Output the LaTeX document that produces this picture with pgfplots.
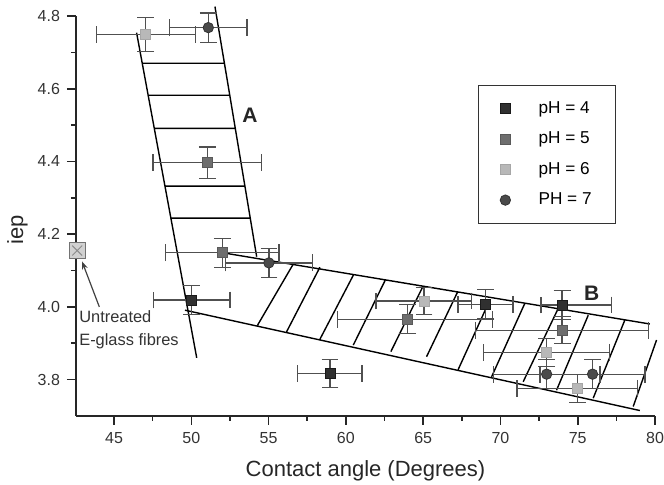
\documentclass[border=0pt]{standalone}
\usepackage{fontspec}
\setmainfont{Liberation Sans}
\usepackage{pgfplots}
\pgfplotsset{compat=1.18}
\usetikzlibrary{arrows.meta}
\definecolor{cfour}{HTML}{303030}
\definecolor{cfive}{HTML}{6E6E6E}
\definecolor{csix}{HTML}{B8B8B8}
\definecolor{cseven}{HTML}{4A4A4A}
\definecolor{ebar}{HTML}{505050}
\begin{document}
\begin{tikzpicture}
\begin{axis}[
  at={(38pt,34.5pt)}, anchor=south west,
  width=289.5pt, height=200pt, scale only axis,
  xmin=42.54, xmax=80, ymin=3.7, ymax=4.8,
  axis x line*=bottom, axis y line*=left,
  axis line style={-, line width=0.9pt, black!85},
  xtick={45,50,55,60,65,70,75,80},
  ytick={3.8,4.0,4.2,4.4,4.6,4.8},
  minor x tick num=1, minor y tick num=1,
  tick align=outside, major tick length=4.5pt, minor tick length=2.5pt,
  every tick/.style={black!85, line width=0.8pt},
  /pgf/number format/assume math mode=true,
  ticklabel style={font=\fontsize{8}{9.6}\selectfont, text=black!80},
  yticklabel style={/pgf/number format/.cd, fixed, fixed zerofill, precision=1},
  xlabel={Contact angle (Degrees)}, ylabel={iep},
  label style={font=\fontsize{11}{13}\selectfont, text=black!85},
  xlabel style={at={(axis description cs:0.5,-0.1375)}, anchor=center},
  ylabel style={at={(axis description cs:-0.101,0.465)}, anchor=center},
  clip=false,
  unbounded coords=jump,
  legend cell align=left,
  legend image code/.code={\draw[#1] plot coordinates {(0pt,0pt)};},
  legend style={at={(axis cs:68.52,4.611)}, anchor=north west,
    draw=black!80, line width=0.6pt, fill=none,
    inner xsep=11pt, inner ysep=6.6pt, row sep=5.15pt,
    font=\fontsize{8.6}{10}\selectfont,
    nodes={inner sep=1pt, text height=6.3pt, text depth=1.8pt},
    /tikz/every odd column/.append style={column sep=13pt}},
  error bars/error bar style={line width=0.65pt, draw=ebar},
  error bars/error mark options={rotate=90, line width=0.65pt, draw=ebar, mark size=4.2pt},
]
% Region A
\addplot[black, line width=0.7pt, forget plot] coordinates {
 (46.46,4.754) (50.35,3.86) (nan,nan)
 (51.53,4.826) (54.23,4.138) (nan,nan)
 (46.83,4.670) (52.14,4.670) (nan,nan)
 (47.21,4.582) (52.49,4.582) (nan,nan)
 (47.60,4.491) (52.84,4.491) (nan,nan)
 (48.30,4.332) (53.47,4.332) (nan,nan)
 (48.68,4.244) (53.81,4.244)
};
% Region B
\addplot[black, line width=0.7pt, forget plot] coordinates {
 (52.29,4.147) (79.67,3.953) (nan,nan)
 (49.59,3.991) (79.02,3.715) (nan,nan)
 (54.29,3.950) (56.60,4.118) (nan,nan)
 (56.17,3.932) (58.32,4.109) (nan,nan)
 (58.32,3.911) (60.48,4.087) (nan,nan)
 (60.48,3.895) (62.53,4.072) (nan,nan)
 (62.91,3.877) (64.97,4.055) (nan,nan)
 (65.22,3.863) (67.25,4.043) (nan,nan)
 (67.27,3.828) (69.11,4.000) (nan,nan)
 (69.43,3.808) (71.58,4.010) (nan,nan)
 (71.47,3.794) (73.74,3.996) (nan,nan)
 (73.63,3.771) (75.68,3.977) (nan,nan)
 (76.00,3.749) (78.05,3.964) (nan,nan)
 (78.59,3.726) (80.10,3.909)
};
% Untreated fibres
\addplot[only marks, mark=square*, mark size=4pt, mark options={fill=black!18, draw=black!55, line width=0.6pt}, forget plot] coordinates {(42.62,4.155)};
\addplot[only marks, mark=x, mark size=3.5pt, mark options={draw=black!45, line width=0.5pt}, forget plot] coordinates {(42.62,4.155)};
% pH = 4
\addplot[only marks, mark=square*, mark size=2.5pt, mark options={fill=cfour, draw=black!90, line width=0.4pt},
  error bars/.cd, x dir=both, x explicit, y dir=both, y explicit] coordinates {
 (50.02,4.019) +- (2.48,0.04)
 (58.97,3.817) +- (2.08,0.038)
 (69.04,4.007) +- (1.78,0.04)
 (73.99,4.005) += (3.2,0.04) -= (1.37,0.04)
};
\addlegendentry{pH = 4}
% pH = 5
\addplot[only marks, mark=square*, mark size=2.5pt, mark options={fill=cfive, draw=black!65, line width=0.4pt},
  error bars/.cd, x dir=both, x explicit, y dir=both, y explicit] coordinates {
 (51.03,4.397) +- (3.5,0.043)
 (52.0,4.149) +- (3.67,0.04)
 (64.0,3.966) += (5.5,0.04) -= (4.56,0.04)
 (73.99,3.936) +- (5.6,0.037)
};
\addlegendentry{pH = 5}
% pH = 6
\addplot[only marks, mark=square*, mark size=2.5pt, mark options={fill=csix, draw=black!35, line width=0.4pt},
  error bars/.cd, x dir=both, x explicit, y dir=both, y explicit] coordinates {
 (47.05,4.749) +- (3.2,0.047)
 (65.05,4.016) +- (3.1,0.037)
 (72.99,3.875) +- (4.07,0.038)
 (74.97,3.776) +- (3.9,0.038)
};
\addlegendentry{pH = 6}
% pH = 7
\addplot[only marks, mark=*, mark size=2.6pt, mark options={fill=cseven, draw=black!80, line width=0.4pt},
  error bars/.cd, x dir=both, x explicit, y dir=both, y explicit] coordinates {
 (51.1,4.768) +- (2.5,0.04)
 (55.02,4.121) +- (2.83,0.04)
 (72.99,3.815) +- (3.46,0.04)
 (75.96,3.815) +- (3.4,0.04)
};
\addlegendentry{PH = 7}
% labels
\node[font=\fontsize{10.5}{12}\selectfont\bfseries, text=black!85] at (axis cs:53.79,4.527) {A};
\node[font=\fontsize{10.5}{12}\selectfont\bfseries, text=black!85] at (axis cs:75.9,4.037) {B};
\node[anchor=west, align=left, inner sep=0pt, font=\fontsize{8.2}{11.5}\selectfont, text=black!80] at (axis cs:42.73,3.938) {Untreated\\E-glass fibres};
\draw[-{Stealth[length=4pt,width=3pt]}, line width=0.6pt, black!75] (axis cs:44.05,4.0) -- (axis cs:42.93,4.125);
\end{axis}
\pgfresetboundingbox
\useasboundingbox (0,0) rectangle (332pt,242.5pt);
\end{tikzpicture}
\end{document}
